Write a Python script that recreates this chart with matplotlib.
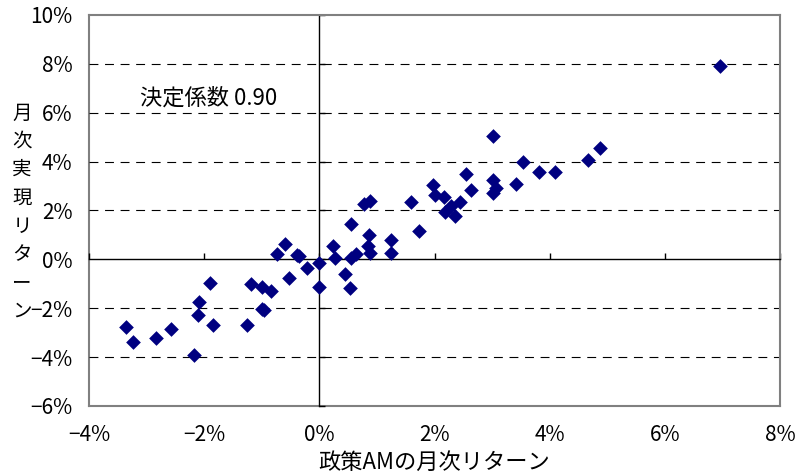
import matplotlib
matplotlib.use("Agg")
import matplotlib.pyplot as plt

plt.rcParams['font.family'] = ['Liberation Sans Narrow', 'Noto Sans CJK JP', 'DejaVu Sans']

# monthly returns (%): policy AM vs realised
policy_am = [-3.36, -3.23, -2.84, -2.57, -2.18, -2.09, -2.11, -1.90, -1.84, -1.25,
             -1.18, -0.99, -0.84, -1.00, -0.96, -0.73, -0.59, -0.38, -0.36, -0.52,
             -0.21, 0.00, 0.00, 0.24, 0.28, 0.45, 0.53, 0.55, 0.55, 0.63,
             0.78, 0.88, 0.86, 0.84, 0.88, 1.25, 1.25, 1.60, 1.73, 1.98,
             2.01, 2.16, 2.18, 2.29, 2.35, 2.44, 2.54, 2.64, 3.02, 3.02,
             3.06, 3.02, 3.41, 3.54, 3.82, 4.10, 4.66, 4.87, 6.95]
realised = [-2.75, -3.40, -3.23, -2.83, -3.90, -1.74, -2.27, -0.95, -2.67, -2.67,
            -1.01, -1.14, -1.29, -2.02, -2.06, 0.22, 0.63, 0.19, 0.12, -0.78,
            -0.37, -0.13, -1.11, 0.56, 0.05, -0.60, -1.18, 1.45, 0.05, 0.23,
            2.27, 2.37, 0.98, 0.53, 0.28, 0.80, 0.28, 2.35, 1.18, 3.03,
            2.65, 2.54, 1.92, 2.17, 1.76, 2.35, 3.49, 2.82, 5.04, 3.26,
            2.92, 2.72, 3.08, 3.99, 3.58, 3.58, 4.05, 4.56, 7.91]

xticks = [-4, -2, 0, 2, 4, 6, 8]
yticks = [-6, -4, -2, 0, 2, 4, 6, 8, 10]
xticklabels = ['\u22124%', '\u22122%', '0%', '2%', '4%', '6%', '8%']
yticklabels = ['\u22126%', '\u22124%', '\u22122%', '0%', '2%', '4%', '6%', '8%', '10%']
r2_text = '決定係数 0.90'

fig = plt.figure(figsize=(7.95, 4.73), dpi=100)
ax = fig.add_axes([89 / 795, 1 - 406 / 473, 691 / 795, 391 / 473])
ax.set_xlim(-4, 8)
ax.set_ylim(-6, 10)

# dashed horizontal gridlines
for yv in yticks[1:-1]:
    if yv != 0:
        ax.axhline(yv, color='black', lw=0.8, ls=(0, (8, 6)), zorder=1)

# zero axes (crossing lines) with inward ticks
ax.spines['bottom'].set_position(('data', 0))
ax.spines['left'].set_position(('data', 0))
ax.spines['bottom'].set_color('black')
ax.spines['left'].set_color('black')
ax.spines['bottom'].set_linewidth(1.0)
ax.spines['left'].set_linewidth(1.0)
for s in ['top', 'right']:
    ax.spines[s].set_color('#808080')
    ax.spines[s].set_linewidth(1.5)
ax.set_xticks(xticks)
ax.set_yticks(yticks)
ax.tick_params(direction='in', length=4, width=1, labelbottom=False, labelleft=False)

# outer frame + labels
secx = ax.secondary_xaxis('bottom')
secx.set_xticks(xticks, labels=xticklabels)
secx.tick_params(length=0, pad=13, labelsize=15)
secx.spines['bottom'].set_color('#808080')
secx.spines['bottom'].set_linewidth(1.5)
secy = ax.secondary_yaxis('left')
secy.set_yticks(yticks, labels=yticklabels)
secy.tick_params(length=0, pad=12, labelsize=15)
secy.spines['left'].set_color('#808080')
secy.spines['left'].set_linewidth(1.5)

ax.scatter(policy_am, realised, marker='D', s=56, color='#000080', linewidths=0, zorder=3)

ax.text(-3.12, 6.62, r2_text, fontsize=16, va='center', ha='left')

fig.text(434 / 795, 1 - 462 / 473, '政策AMの月次リターン', fontsize=16, ha='center', va='center')
fig.text(22 / 795, 1 - 212 / 473, '\n'.join('月次実現リターン'), fontsize=14,
         ha='center', va='center', linespacing=1.45)

fig.savefig('out.png', dpi=100)
